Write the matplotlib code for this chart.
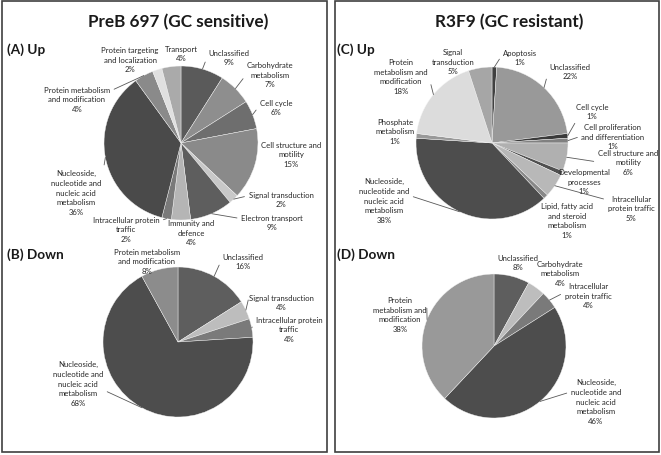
import matplotlib
matplotlib.use("Agg")
import matplotlib.pyplot as plt
from matplotlib import font_manager
import numpy as np

# ---------------- data ----------------
a_labels = ["Unclassified", "Carbohydrate\nmetabolism", "Cell cycle", "Cell structure and\nmotility",
            "Signal transduction", "Electron transport", "Immunity and\ndefence",
            "Intracellular protein\ntraffic", "Nucleoside,\nnucleotide and\nnucleic acid\nmetabolism",
            "Protein metabolism\nand modification", "Protein targeting\nand localization", "Transport"]
a_values = [9, 7, 6, 15, 2, 9, 4, 2, 36, 4, 2, 4]

b_labels = ["Unclassified", "Signal transduction", "Intracellular protein\ntraffic",
            "Nucleoside,\nnucleotide and\nnucleic acid\nmetabolism", "Protein metabolism\nand modification"]
b_values = [16, 4, 4, 68, 8]

c_labels = ["Apoptosis", "Unclassified", "Cell cycle", "Cell proliferation\nand differentiation",
            "Cell structure and\nmotility", "Developmental\nprocesses", "Intracellular\nprotein traffic",
            "Lipid, fatty acid\nand steroid\nmetabolism", "Nucleoside,\nnucleotide and\nnucleic acid\nmetabolism",
            "Phosphate\nmetabolism", "Protein\nmetabolism and\nmodification", "Signal\ntransduction"]
c_values = [1, 22, 1, 1, 6, 1, 5, 1, 38, 1, 18, 5]

d_labels = ["Unclassified", "Carbohydrate\nmetabolism", "Intracellular\nprotein traffic",
            "Nucleoside,\nnucleotide and\nnucleic acid\nmetabolism", "Protein\nmetabolism and\nmodification"]
d_values = [8, 4, 4, 46, 38]

# ---------------- styles ----------------
a_colors = ["#5a5a5a", "#8e8e8e", "#6e6e6e", "#8a8a8a", "#c8c8c8", "#5e5e5e", "#b5b5b5",
            "#7a7a7a", "#4a4a4a", "#8a8a8a", "#e0e0e0", "#aaaaaa"]
b_colors = ["#5e5e5e", "#bdbdbd", "#7a7a7a", "#4d4d4d", "#8c8c8c"]
c_colors = ["#404040", "#999999", "#3a3a3a", "#808080", "#b0b0b0", "#505050", "#b8b8b8",
            "#888888", "#4d4d4d", "#999999", "#dcdcdc", "#a6a6a6"]
d_colors = ["#5e5e5e", "#bdbdbd", "#7a7a7a", "#4d4d4d", "#999999"]

W, H = 661, 456
names = {f.name for f in font_manager.fontManager.ttflist}
small_family = [f for f in ["Liberation Sans Narrow", "Lato", "DejaVu Sans"] if f in names]
bold_family = [f for f in ["Lato", "DejaVu Sans"] if f in names]
FS = 5.6
LS = 1.45

fig = plt.figure(figsize=(W / 100, H / 100), dpi=100)
ax = fig.add_axes([0, 0, 1, 1])
ax.set_xlim(0, W)
ax.set_ylim(0, H)
ax.set_aspect("equal")
ax.axis("off")


def Y(py):
    return H - py


# boxes
for x0, x1 in [(2, 327), (335, 659)]:
    ax.add_patch(plt.Rectangle((x0, Y(453)), x1 - x0, 451, fill=False, lw=1.2, ec="#404040"))

ax.text(178, Y(22), "PreB 697 (GC sensitive)", ha="center", va="center", fontsize=12.3,
        fontweight="bold", family=bold_family, color="#1a1a1a")
ax.text(509, Y(22), "R3F9 (GC resistant)", ha="center", va="center", fontsize=12.3,
        fontweight="bold", family=bold_family, color="#1a1a1a")
for x, y, t in [(7, 50, "(A) Up"), (7, 255, "(B) Down"), (337, 50, "(C) Up"), (337, 255, "(D) Down")]:
    ax.text(x, Y(y), t, ha="left", va="center", fontsize=9.8, fontweight="bold",
            family=bold_family, color="#1a1a1a")


def draw_pie(values, labels, colors, center, radius, placements):
    cx, cy = center
    wedges, _ = ax.pie(values, colors=colors, startangle=90, counterclock=False,
                       center=(cx, Y(cy)), radius=radius, frame=True,
                       wedgeprops=dict(linewidth=0.3, edgecolor="#f4f4f4"))
    for w, lab, val, pl in zip(wedges, labels, values, placements):
        lx, ly, rel = pl
        txt = f"{lab}\n{val}%"
        if rel is None:
            ax.text(lx, Y(ly), txt, ha="center", va="center", fontsize=FS,
                    family=small_family, color="#262626", linespacing=LS)
        else:
            ang = np.deg2rad((w.theta1 + w.theta2) / 2)
            ex = cx + radius * np.cos(ang)
            ey = Y(cy) + radius * np.sin(ang)
            ax.annotate(txt, xy=(ex, ey), xytext=(lx, Y(ly)), ha="center", va="center",
                        fontsize=FS, family=small_family, color="#262626", linespacing=LS,
                        arrowprops=dict(arrowstyle="-", lw=0.6, color="#595959",
                                        shrinkA=1, shrinkB=0, relpos=rel))


draw_pie(a_values, a_labels, a_colors, (181, 144), 77, [
    (229, 58, (0, 0.7)), (270, 75, (0, 0.5)), (276, 108, (0, 0.6)), (291, 155, None),
    (281, 200, (0, 0.7)), (272, 223, (0, 0.7)), (191, 233, None), (126, 230, (1, 0.8)),
    (76, 193, (1, 0.7)), (77, 100, (1, 0.8)), (130, 60, None), (181, 54, None)])

draw_pie(b_values, b_labels, b_colors, (178, 343), 75, [
    (243, 262, (0, 0.7)), (281, 303, (0, 0.7)), (289, 330, (0, 0.8)),
    (78, 384, (1, 0.35)), (147, 262, None)])

draw_pie(c_values, c_labels, c_colors, (492, 144), 76, [
    (520, 58, (0, 0.7)), (570, 72, (0, 0.7)), (592, 112, (0.1, 0.2)), (613, 137, (0, 0.5)),
    (628, 163, (0, 0.5)), (584, 182, (0, 0.8)), (631, 209, (0, 0.8)), (567, 221, None),
    (384, 201, (1, 0.6)), (395, 132, None), (401, 77, (1, 0.6)), (453, 62, None)])

draw_pie(d_values, d_labels, d_colors, (494, 347), 72, [
    (518, 263, None), (560, 274, None), (588, 296, (0, 0.6)),
    (596, 402, (0, 0.7)), (400, 315, (1, 0.7))])

ax.set_xlim(0, W)
ax.set_ylim(0, H)
ax.axis("off")
fig.savefig("out.png", dpi=100, facecolor="white")
